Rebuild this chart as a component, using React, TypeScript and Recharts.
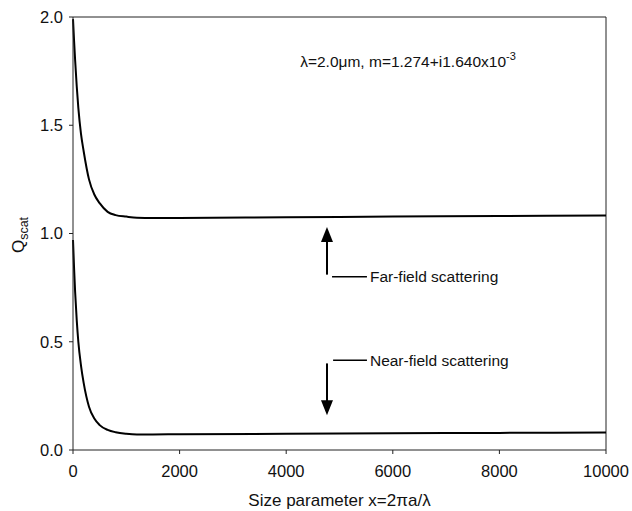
import React from 'react';
import {
  LineChart,
  Line,
  XAxis,
  YAxis,
  ReferenceLine,
  ReferenceDot,
} from 'recharts';

// size parameter samples (denser near 0 where the curves drop)
const sizeParams = [
  0, 20, 40, 70, 100, 150, 200, 300, 400, 500, 650, 800, 1000, 1200, 1500,
  2000, 4000, 6000, 8000, 10000,
];
const farField = [
  1.99, 1.89, 1.8, 1.68, 1.58, 1.46, 1.38, 1.25, 1.18, 1.14, 1.1, 1.085,
  1.078, 1.073, 1.072, 1.072, 1.075, 1.078, 1.081, 1.083,
];
const nearField = [
  0.97, 0.84, 0.73, 0.6, 0.5, 0.39, 0.31, 0.2, 0.145, 0.115, 0.093, 0.082,
  0.075, 0.072, 0.072, 0.073, 0.075, 0.077, 0.079, 0.081,
];
const xTicks = [0, 2000, 4000, 6000, 8000, 10000];
const yTicks = [0, 0.5, 1.0, 1.5, 2.0];

const data = sizeParams.map((x, i) => ({
  x,
  far: farField[i],
  near: nearField[i],
}));

const FONT = "'Liberation Sans', Arial, sans-serif";

const upHead = (p: any) => (
  <path
    d={`M${p.cx},${p.cy} L${p.cx - 6},${p.cy + 15} L${p.cx + 6},${p.cy + 15} Z`}
    fill='#000'
  />
);
const downHead = (p: any) => (
  <path
    d={`M${p.cx},${p.cy} L${p.cx - 6},${p.cy - 15} L${p.cx + 6},${p.cy - 15} Z`}
    fill='#000'
  />
);

const titleText = (p: any) => (
  <text
    x={p.cx}
    y={p.cy}
    textAnchor='middle'
    fontFamily={FONT}
    fontSize={15.5}
    fill='#111'
  >
    λ=2.0μm, m=1.274+i1.640x10
    <tspan dy={-7} fontSize={11}>
      -3
    </tspan>
  </text>
);

const yLabel = () => (
  <text
    x={24}
    y={235}
    transform='rotate(-90 24 235)'
    textAnchor='middle'
    fontFamily={FONT}
    fontSize={17}
    fill='#111'
  >
    Q
    <tspan dy={4} fontSize={12.5}>
      scat
    </tspan>
  </text>
);

export default function App() {
  return (
    <div style={{ position: 'absolute', left: 0, top: 0, background: '#fff' }}>
      <LineChart
        width={632}
        height={511}
        data={data}
        margin={{ top: 17, right: 26, bottom: 0, left: 0 }}
      >
        <XAxis
          dataKey='x'
          type='number'
          domain={[0, 10000]}
          ticks={xTicks}
          tickSize={4}
          tickMargin={11}
          height={61}
          stroke='#222'
          tick={{ fill: '#111', fontSize: 16.5, fontFamily: FONT }}
          label={{
            value: 'Size parameter x=2πa/λ',
            position: 'insideBottom',
            offset: 5,
            fill: '#111',
            fontSize: 17,
            fontFamily: FONT,
          }}
        />
        <YAxis
          type='number'
          domain={[0, 2]}
          ticks={yTicks}
          tickFormatter={(v: number) => v.toFixed(1)}
          tickSize={4}
          tickMargin={6}
          width={73}
          stroke='#222'
          tick={{ fill: '#111', fontSize: 16.5, fontFamily: FONT }}
          label={yLabel}
        />
        {/* box frame */}
        <ReferenceLine y={2} stroke='#222' />
        <ReferenceLine x={10000} stroke='#222' />

        <Line
          dataKey='far'
          type='monotone'
          stroke='#000'
          strokeWidth={2}
          dot={false}
          isAnimationActive={false}
        />
        <Line
          dataKey='near'
          type='monotone'
          stroke='#000'
          strokeWidth={2}
          dot={false}
          isAnimationActive={false}
        />

        {/* annotations */}
        <ReferenceDot x={6285} y={1.77} r={0} shape={titleText} />

        <ReferenceLine
          segment={[
            { x: 4765, y: 0.81 },
            { x: 4765, y: 0.97 },
          ]}
          stroke='#000'
          strokeWidth={2}
        />
        <ReferenceDot x={4765} y={1.03} r={0} shape={upHead} />
        <ReferenceLine
          segment={[
            { x: 4860, y: 0.8 },
            { x: 5515, y: 0.8 },
          ]}
          stroke='#000'
          strokeWidth={1.5}
        />
        <ReferenceDot
          x={5515}
          y={0.8}
          r={0}
          label={{
            value: 'Far-field scattering',
            position: 'right',
            offset: 3,
            fill: '#111',
            fontSize: 15.5,
            fontFamily: FONT,
          }}
        />

        <ReferenceLine
          segment={[
            { x: 4880, y: 0.415 },
            { x: 5515, y: 0.415 },
          ]}
          stroke='#000'
          strokeWidth={1.5}
        />
        <ReferenceDot
          x={5515}
          y={0.415}
          r={0}
          label={{
            value: 'Near-field scattering',
            position: 'right',
            offset: 3,
            fill: '#111',
            fontSize: 15.5,
            fontFamily: FONT,
          }}
        />
        <ReferenceLine
          segment={[
            { x: 4765, y: 0.4 },
            { x: 4765, y: 0.22 },
          ]}
          stroke='#000'
          strokeWidth={2}
        />
        <ReferenceDot x={4765} y={0.16} r={0} shape={downHead} />
      </LineChart>
    </div>
  );
}
